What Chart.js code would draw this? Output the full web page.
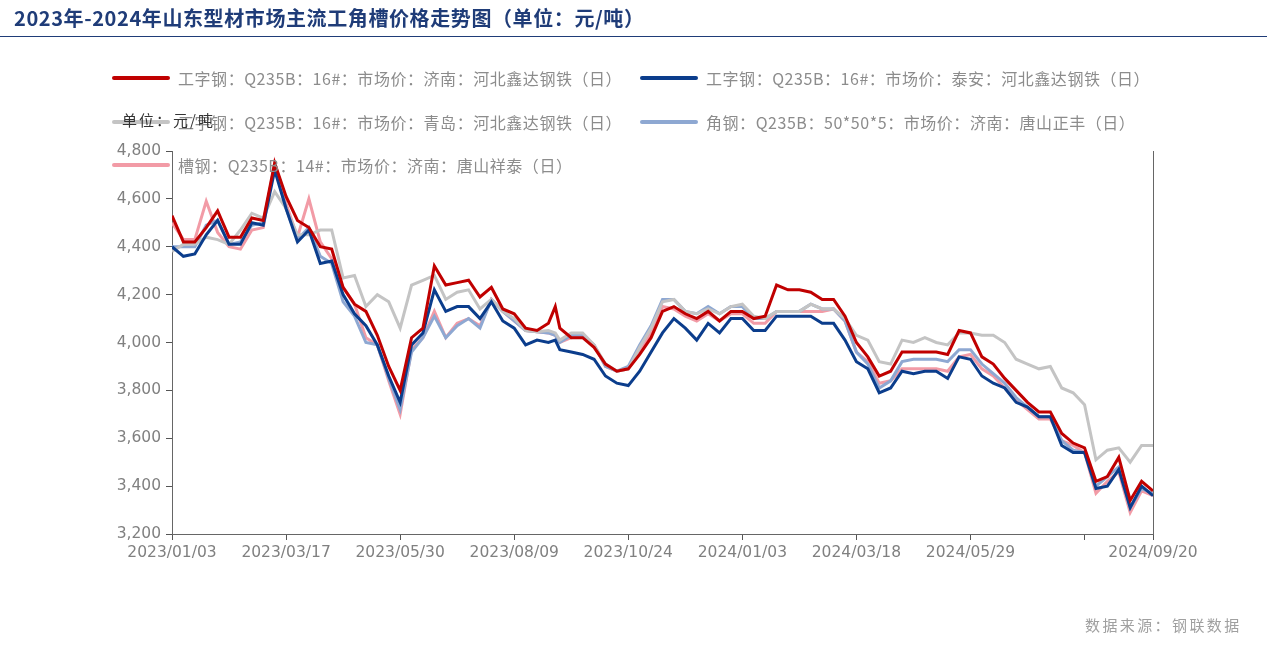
<!DOCTYPE html>
<html>
<head>
<meta charset="utf-8">
<script src="https://cdn.jsdelivr.net/npm/chart.js@4.4.1/dist/chart.umd.min.js"></script>
<style>
  html, body { margin: 0; padding: 0; background: #fff; }
  body { width: 1267px; height: 649px; position: relative; overflow: hidden; font-family: "Noto Sans CJK SC", "Noto Sans", sans-serif; }
  #box { position: absolute; left: 0; top: 0; width: 1267px; height: 649px; }
  .title { position: absolute; left: 14px; top: 3px; font-size: 20px; font-weight: bold; color: #1f3c78; white-space: nowrap; letter-spacing: 0.6px; }
  .rule { position: absolute; left: 0; top: 36px; width: 1267px; height: 1px; background: #1f3c78; }
  .leg { position: absolute; height: 22px; display: flex; align-items: center; font-size: 16px; color: #8c8c8c; white-space: nowrap; letter-spacing: 0.55px; }
  .leg i { display: inline-block; width: 58px; height: 4px; border-radius: 2px; margin-right: 8px; }
  .unit { position: absolute; left: 122px; top: 109px; font-size: 15px; color: #333; white-space: nowrap; letter-spacing: 2px; }
  .src { position: absolute; left: 1085px; top: 614px; font-size: 15px; color: #a0a0a0; white-space: nowrap; letter-spacing: 2.4px; }
</style>
</head>
<body>
<div id="box"><canvas id="priceChart" width="1267" height="649"></canvas></div>
<div class="title">2023年-2024年山东型材市场主流工角槽价格走势图（单位：元/吨）</div>
<div class="rule"></div>
<div class="leg" style="left:112px;top:67px"><i style="background:#c00000"></i>工字钢：Q235B：16#：市场价：济南：河北鑫达钢铁（日）</div>
<div class="leg" style="left:640px;top:67px"><i style="background:#0b3d8c"></i>工字钢：Q235B：16#：市场价：泰安：河北鑫达钢铁（日）</div>
<div class="leg" style="left:112px;top:111px"><i style="background:#c4c4c4"></i>工字钢：Q235B：16#：市场价：青岛：河北鑫达钢铁（日）</div>
<div class="leg" style="left:640px;top:111px"><i style="background:#8ea8d2"></i>角钢：Q235B：50*50*5：市场价：济南：唐山正丰（日）</div>
<div class="leg" style="left:112px;top:154px"><i style="background:#f29ba6"></i>槽钢：Q235B：14#：市场价：济南：唐山祥泰（日）</div>
<div class="unit">单位：元/吨</div>
<div class="src">数据来源：钢联数据</div>
<script>
// 交易日序号（约430个交易日，每5日取一个点）
const days = [0,5,10,15,20,25,30,35,40,45,50,55,60,65,70,75,80,85,90,95,100,105,110,115,120,125,130,135,140,145,150,155,160,165,168,170,175,180,185,190,195,200,205,210,215,220,225,230,235,240,245,250,255,260,265,270,275,280,285,290,295,300,305,310,315,320,325,330,335,340,345,350,355,360,365,370,375,380,385,390,395,400,405,410,415,420,425,430];

// 刻度标签
const tickPos = [0, 50, 100, 150, 200, 250, 300, 350, 400, 430];
const tickLabels = ['2023/01/03', '2023/03/17', '2023/05/30', '2023/08/09', '2023/10/24', '2024/01/03', '2024/03/18', '2024/05/29', '', '2024/09/20'];

// 工字钢 济南
const jinanI = [4530,4420,4420,4480,4550,4440,4440,4520,4510,4750,4610,4510,4480,4400,4390,4230,4160,4130,4030,3900,3800,4020,4060,4320,4240,4250,4260,4190,4230,4140,4120,4060,4050,4080,4150,4060,4020,4020,3980,3910,3880,3890,3950,4020,4130,4150,4120,4100,4130,4090,4130,4130,4100,4110,4240,4220,4220,4210,4180,4180,4110,4000,3940,3860,3880,3960,3960,3960,3960,3950,4050,4040,3940,3910,3850,3800,3750,3710,3710,3620,3580,3560,3420,3440,3520,3340,3420,3380];
// 工字钢 泰安
const taianI = [4400,4360,4370,4450,4510,4410,4410,4500,4490,4720,4560,4420,4470,4330,4340,4200,4120,4070,3990,3860,3750,3990,4040,4220,4130,4150,4150,4100,4170,4090,4060,3990,4010,4000,4010,3970,3960,3950,3930,3860,3830,3820,3880,3960,4040,4100,4060,4010,4080,4040,4100,4100,4050,4050,4110,4110,4110,4110,4080,4080,4010,3920,3890,3790,3810,3880,3870,3880,3880,3850,3940,3930,3860,3830,3810,3750,3730,3690,3690,3570,3540,3540,3390,3400,3470,3310,3400,3360];
// 工字钢 青岛
const qingdaoI = [4380,4410,4410,4440,4430,4410,4470,4540,4520,4630,4560,4450,4450,4470,4470,4270,4280,4150,4200,4170,4060,4240,4260,4280,4180,4210,4220,4140,4180,4130,4100,4050,4045,4050,4040,4010,4040,4040,3990,3910,3880,3890,3980,4060,4170,4180,4130,4120,4140,4120,4150,4160,4110,4100,4130,4130,4130,4160,4140,4140,4100,4030,4010,3920,3910,4010,4000,4020,4000,3990,4040,4040,4030,4030,4000,3930,3910,3890,3900,3810,3790,3740,3510,3550,3560,3500,3570,3570];
// 角钢 济南
const jinanAngle = [4400,4400,4400,4490,4510,4410,4420,4490,4500,4740,4560,4430,4480,4360,4330,4170,4110,4000,3990,3850,3720,3960,4020,4110,4020,4070,4100,4060,4180,4130,4090,4050,4045,4040,4030,4000,4030,4030,3990,3900,3880,3900,3990,4070,4180,4180,4130,4120,4150,4120,4150,4150,4100,4100,4130,4130,4130,4160,4140,4140,4090,3960,3910,3810,3840,3920,3930,3930,3930,3920,3970,3970,3910,3870,3830,3770,3730,3690,3690,3590,3550,3540,3400,3440,3480,3310,3390,3370];
// 槽钢 济南
const jinanChannel = [4500,4430,4430,4590,4460,4400,4390,4470,4480,4750,4580,4440,4600,4420,4350,4230,4160,4020,3990,3840,3700,3970,4020,4130,4020,4080,4100,4070,4180,4130,4090,4050,4045,4040,4030,4000,4020,4030,3990,3900,3880,3890,3960,4040,4150,4140,4110,4090,4120,4090,4120,4120,4080,4080,4130,4130,4130,4130,4130,4140,4090,3960,3920,3830,3840,3890,3890,3890,3890,3880,3940,3950,3890,3860,3810,3760,3720,3680,3680,3590,3570,3540,3370,3420,3460,3290,3380,3360];

document.addEventListener('DOMContentLoaded', () => {
    const pts = arr => days.map((d, i) => ({ x: d, y: arr[i] }));
    const line = (label, arr, color) => ({
        label,
        data: pts(arr),
        borderColor: color,
        backgroundColor: color,
        borderWidth: 3,
        pointRadius: 0,
        tension: 0,
        fill: false,
    });

    const tickFont = { family: "'DejaVu Sans', 'Noto Sans', sans-serif", size: 15.5 };

    new Chart(document.getElementById('priceChart').getContext('2d'), {
        type: 'line',
        data: {
            datasets: [
                line('工字钢：Q235B：16#：市场价：济南：河北鑫达钢铁（日）', jinanI, '#c00000'),
                line('工字钢：Q235B：16#：市场价：泰安：河北鑫达钢铁（日）', taianI, '#0b3d8c'),
                line('工字钢：Q235B：16#：市场价：青岛：河北鑫达钢铁（日）', qingdaoI, '#c4c4c4'),
                line('角钢：Q235B：50*50*5：市场价：济南：唐山正丰（日）', jinanAngle, '#8ea8d2'),
                line('槽钢：Q235B：14#：市场价：济南：唐山祥泰（日）', jinanChannel, '#f29ba6'),
            ]
        },
        options: {
            responsive: false,
            animation: false,
            layout: { padding: { left: 0, top: 151, right: 114, bottom: 0 } },
            plugins: { legend: { display: false }, tooltip: { enabled: false } },
            scales: {
                x: {
                    type: 'linear',
                    min: 0,
                    max: 430,
                    afterBuildTicks: s => { s.ticks = tickPos.map(v => ({ value: v })); },
                    afterFit: s => { s.height = 115; },
                    ticks: {
                        autoSkip: false,
                        maxRotation: 0,
                        padding: 4,
                        color: '#808080',
                        font: tickFont,
                        callback: v => tickLabels[tickPos.indexOf(v)] ?? ''
                    },
                    grid: { drawOnChartArea: false, drawTicks: true, tickLength: 6, color: '#555' },
                    border: { display: true, color: '#666', width: 1 }
                },
                y: {
                    min: 3200,
                    max: 4800,
                    afterFit: s => { s.width = 172; },
                    ticks: {
                        stepSize: 200,
                        padding: 5,
                        color: '#808080',
                        font: tickFont,
                        callback: v => v.toLocaleString('en-US')
                    },
                    grid: { drawOnChartArea: false, drawTicks: true, tickLength: 6, color: '#555' },
                    border: { display: true, color: '#666', width: 1 }
                },
                y2: {
                    position: 'right',
                    min: 3200,
                    max: 4800,
                    afterFit: s => { s.width = 0; },
                    ticks: { display: false },
                    grid: { display: false },
                    border: { display: true, color: '#666', width: 1 }
                }
            }
        }
    });
});
</script>
</body>
</html>
